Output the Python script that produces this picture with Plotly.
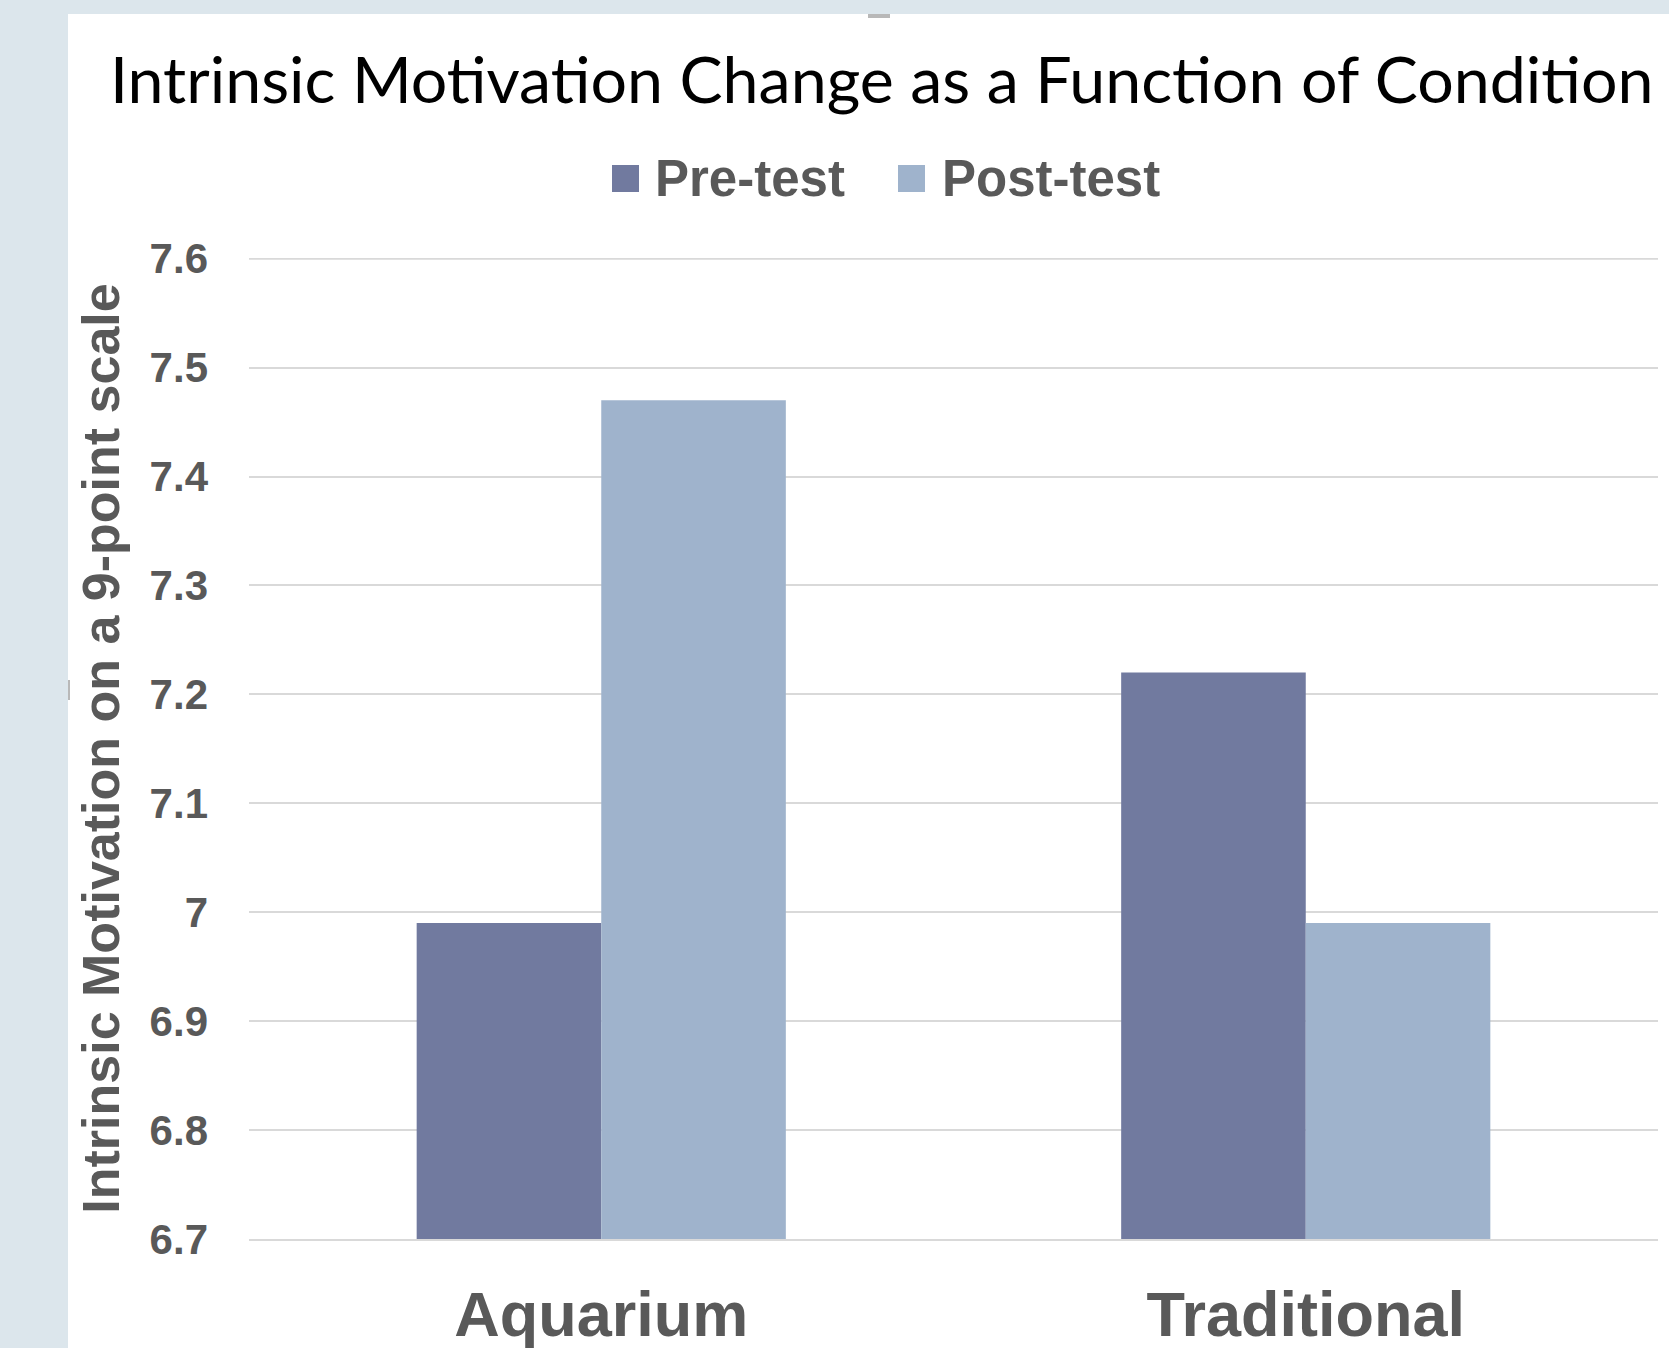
import plotly.graph_objects as go

categories = ["Aquarium", "Traditional"]
series_names = ["Pre-test", "Post-test"]
pre_test = [6.99, 7.22]
post_test = [7.47, 6.99]
series_colors = ["#717a9f", "#9fb3cc"]
y_ticks = [6.7, 6.8, 6.9, 7.0, 7.1, 7.2, 7.3, 7.4, 7.5, 7.6]
y_tick_labels = ["6.7", "6.8", "6.9", "7", "7.1", "7.2", "7.3", "7.4", "7.5", "7.6"]

W, H = 1669, 1348
L, R, T, B = 249, 11, 258, 109
pw, ph = W - L - R, H - T - B

def px_x(p):
    return (p - L) / pw

def px_y(p):
    return (H - B - p) / ph

fig = go.Figure()
for name, vals, col in zip(series_names, [pre_test, post_test], series_colors):
    fig.add_trace(go.Bar(name=name, x=categories, y=[v - 6.7 for v in vals], base=6.7,
                         marker=dict(color=col, line=dict(width=0)),
                         customdata=vals, showlegend=False,
                         hovertemplate="%{customdata}<extra>" + name + "</extra>"))

# white slide area over the light blue-grey frame
shapes = [dict(type="rect", xref="paper", yref="paper", layer="below",
               x0=px_x(68), x1=px_x(W + 5), y0=px_y(14), y1=px_y(H + 5),
               fillcolor="white", line=dict(width=0)),
          dict(type="rect", xref="paper", yref="paper", layer="below",
               x0=px_x(868), x1=px_x(890), y0=px_y(14), y1=px_y(18),
               fillcolor="#9a9a9a", opacity=0.7, line=dict(width=0)),
          dict(type="rect", xref="paper", yref="paper", layer="below",
               x0=px_x(68), x1=px_x(70), y0=px_y(680), y1=px_y(700),
               fillcolor="#9a9a9a", opacity=0.7, line=dict(width=0)),
          # top gridline (at the very edge of the value range)
          dict(type="line", xref="paper", yref="y", layer="below",
               x0=0, x1=1, y0=y_ticks[-1], y1=y_ticks[-1],
               line=dict(color="#d9d9d9", width=2))]

# legend drawn by hand (large square swatches as in the reference)
legend_items = [(series_names[0], series_colors[0], 612, 653),
                (series_names[1], series_colors[1], 898, 940)]
annotations = []
for name, col, sx, tx in legend_items:
    shapes.append(dict(type="rect", xref="paper", yref="paper",
                       x0=px_x(sx), x1=px_x(sx + 27), y0=px_y(165), y1=px_y(192),
                       fillcolor=col, line=dict(width=0)))
    annotations.append(dict(text="<b>" + name + "</b>", xref="paper", yref="paper",
                            x=px_x(tx), y=px_y(178), xanchor="left", yanchor="middle",
                            showarrow=False,
                            font=dict(family="Liberation Sans", size=51, color="#595959")))

fig.update_layout(
    width=W, height=H,
    margin=dict(l=L, r=R, t=T, b=B, pad=0, autoexpand=False),
    paper_bgcolor="#dce6ec",
    plot_bgcolor="white",
    barmode="group",
    bargap=0.476,
    bargroupgap=0,
    showlegend=False,
    title=dict(text="Intrinsic Motivation Change as a Function of Condition",
               font=dict(family="Lato", size=64.5, color="#000000"),
               x=110 / W, xanchor="left", xref="container",
               y=1 - 80 / H, yanchor="middle", yref="container"),
    xaxis=dict(showgrid=False, showline=True, linecolor="#d9d9d9", linewidth=2,
               ticks="", tickfont=dict(family="Liberation Sans", size=63, color="#595959"),
               tickvals=categories, ticktext=["<b>" + c + "</b>" for c in categories],
               ticklabelstandoff=19, zeroline=False, automargin=False),
    yaxis=dict(range=[6.7, 7.6006], tickvals=y_ticks,
               ticktext=["<b>" + t + "</b>" for t in y_tick_labels],
               showgrid=True, gridcolor="#d9d9d9", gridwidth=2, zeroline=False,
               showline=False, ticks="", automargin=False,
               tickfont=dict(family="Liberation Sans", size=42, color="#595959"),
               ticklabelstandoff=40,
               title=dict(text="<b>Intrinsic Motivation on a 9-point scale</b>",
                          font=dict(family="Liberation Sans", size=52, color="#595959"),
                          standoff=13)),
    shapes=shapes,
    annotations=annotations,
    font=dict(family="Liberation Sans"),
)

fig.write_html("out.html", config={"displayModeBar": False},
               post_script="document.body.style.margin='0';document.body.style.overflow='hidden';")
